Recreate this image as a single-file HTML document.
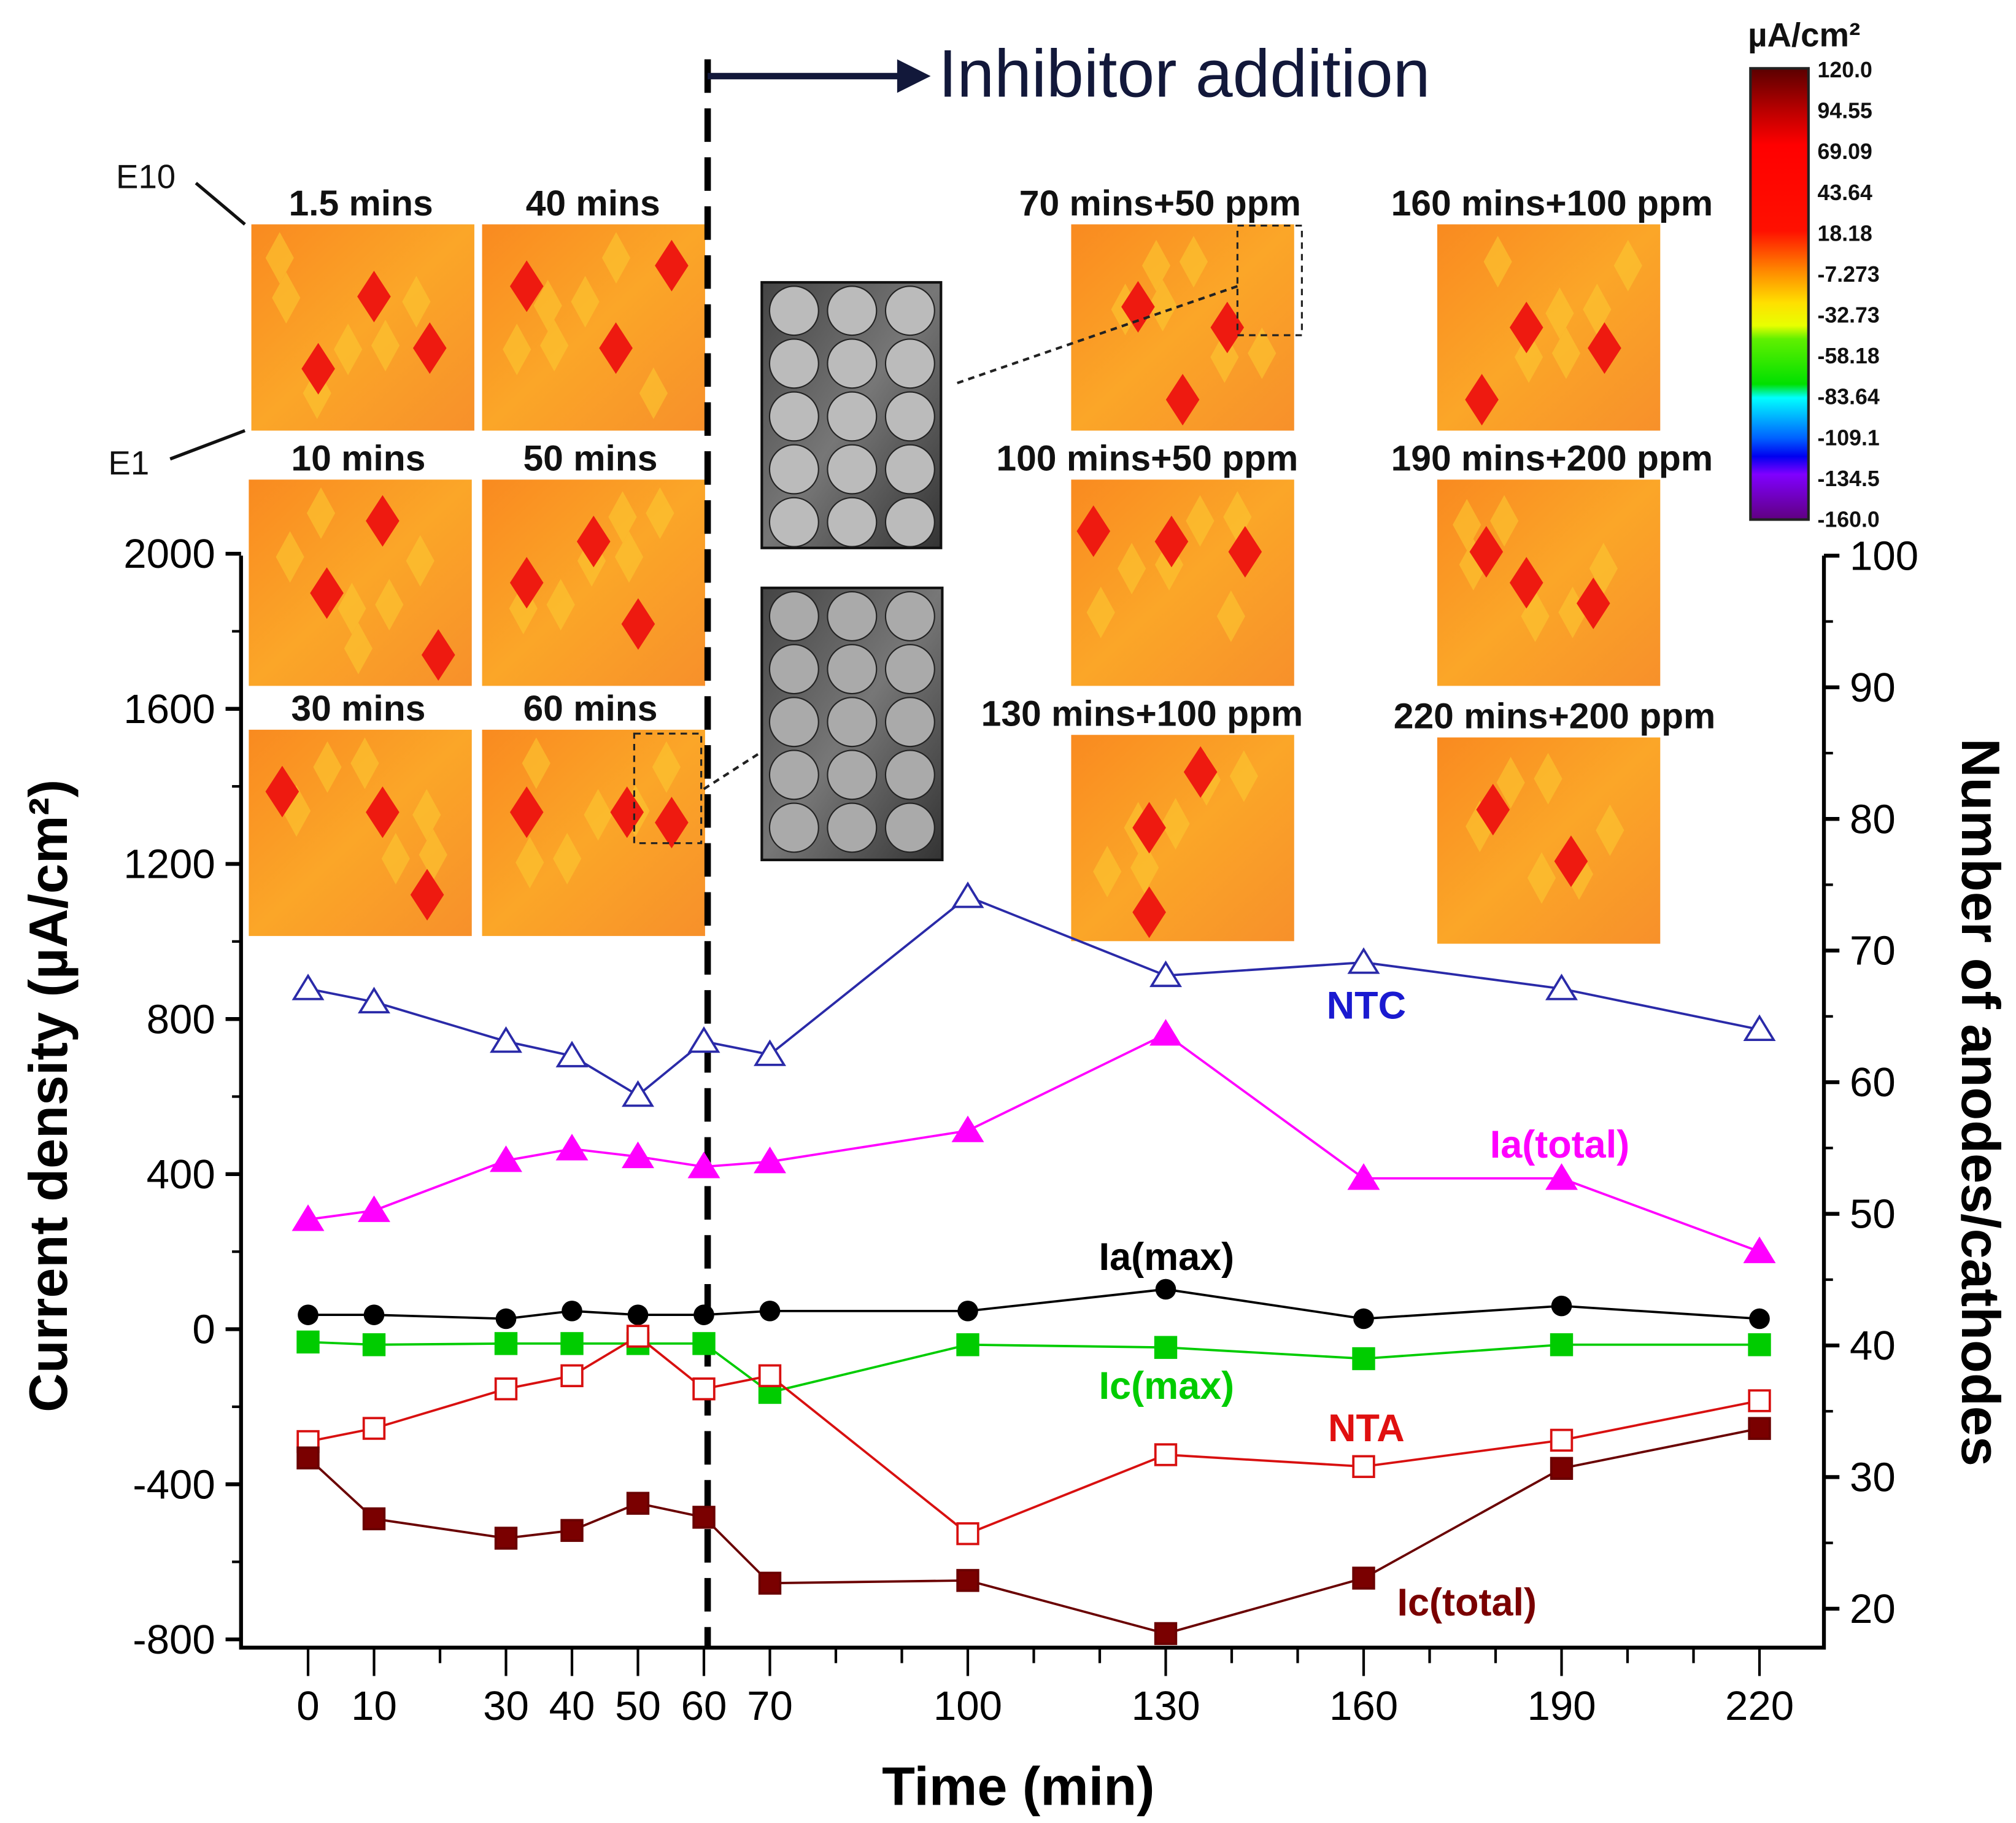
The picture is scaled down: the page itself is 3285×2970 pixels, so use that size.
<!DOCTYPE html>
<html><head><meta charset="utf-8"><style>
html,body{margin:0;padding:0;background:#fff;}
svg{display:block;font-family:"Liberation Sans",sans-serif;}
</style></head><body>
<svg id="chart" width="3285" height="2970" viewBox="0 0 1564 1414" xmlns="http://www.w3.org/2000/svg">
<defs>
<linearGradient id="cb" x1="0" y1="0" x2="0" y2="1">
<stop offset="0" stop-color="#5a0000"/><stop offset="0.1" stop-color="#c00000"/><stop offset="0.17" stop-color="#ff0000"/><stop offset="0.36" stop-color="#ff1000"/><stop offset="0.45" stop-color="#ff8a00"/><stop offset="0.52" stop-color="#ffe000"/><stop offset="0.57" stop-color="#e8ff00"/><stop offset="0.6" stop-color="#60f000"/><stop offset="0.7" stop-color="#00e000"/><stop offset="0.73" stop-color="#00ffff"/><stop offset="0.82" stop-color="#0060ff"/><stop offset="0.86" stop-color="#0000f0"/><stop offset="0.9" stop-color="#8000ff"/><stop offset="1" stop-color="#600080"/>
</linearGradient>
<linearGradient id="hm" x1="0" y1="0" x2="1" y2="1">
<stop offset="0" stop-color="#f98a20"/><stop offset="0.5" stop-color="#fba628"/><stop offset="1" stop-color="#f7902a"/>
</linearGradient>
<linearGradient id="ph" x1="0" y1="0" x2="1" y2="1">
<stop offset="0" stop-color="#444"/><stop offset="0.5" stop-color="#777"/><stop offset="1" stop-color="#333"/>
</linearGradient>
</defs>
<g id="maps"></g>
<g id="plot"></g>
</svg>
<script>
const times = [0,10,30,40,50,60,70,100,130,160,190,220];
const ntc = [67.1,66.1,63.1,62,59,63.1,62.1,74.1,68.1,69.1,67.1,64];
const nta = [32.7,33.7,36.7,37.7,40.7,36.7,37.7,25.7,31.7,30.8,32.8,35.8];
const iaTotal = [283,306,435,465,445,419,432,512,761,389,389,200];
const iaMax = [37,37,27,47,37,37,47,47,103,27,60,27];
const icMax = [-33,-40,-37,-37,-37,-37,-163,-40,-47,-76,-40,-40];
const icTotal = [-332,-489,-539,-519,-449,-485,-655,-648,-785,-642,-359,-256];
const leftTicks = [-800,-400,0,400,800,1200,1600,2000];
const rightTicks = [20,30,40,50,60,70,80,90,100];
const xTicks = [0,10,30,40,50,60,70,100,130,160,190,220];
const cbLabels = ["120.0","94.55","69.09","43.64","18.18","-7.273","-32.73","-58.18","-83.64","-109.1","-134.5","-160.0"];

const NS="http://www.w3.org/2000/svg";
const X0=187,X1=1415,YB=1278;
const xs=t=>239+t*(1126/220);
const yl=v=>1031-v*(120.3/400);
const yr=v=>431+(100-v)*10.21;
const plot=document.getElementById('plot');
const maps=document.getElementById('maps');
function mk(tag,attrs,parent,text){const e=document.createElementNS(NS,tag);for(const k in attrs)e.setAttribute(k,attrs[k]);if(text!==undefined)e.textContent=text;(parent||plot).appendChild(e);return e;}

const mapBoxes=[[195,174,"1.5 mins",280],[374,174,"40 mins",460],[193,372,"10 mins",278],[374,372,"50 mins",458],[193,566,"30 mins",278],[374,566,"60 mins",458],
[831,174,"70 mins+50 ppm",900],[1115,174,"160 mins+100 ppm",1204],[831,372,"100 mins+50 ppm",890],[1115,372,"190 mins+200 ppm",1204],[831,570,"130 mins+100 ppm",886],[1115,572,"220 mins+200 ppm",1206]];
const spots=[[[0.55,0.35],[0.3,0.7],[0.8,0.6]],[[0.2,0.3],[0.6,0.6],[0.85,0.2]],[[0.35,0.55],[0.85,0.85],[0.6,0.2]],[[0.2,0.5],[0.5,0.3],[0.7,0.7]],[[0.15,0.3],[0.6,0.4],[0.8,0.8]],[[0.2,0.4],[0.65,0.4],[0.85,0.45]],
[[0.3,0.4],[0.7,0.5],[0.5,0.85]],[[0.4,0.5],[0.75,0.6],[0.2,0.85]],[[0.1,0.25],[0.45,0.3],[0.78,0.35]],[[0.22,0.35],[0.4,0.5],[0.7,0.6]],[[0.35,0.45],[0.58,0.18],[0.35,0.9]],[[0.25,0.35],[0.6,0.6]]];
mapBoxes.forEach((b,i)=>{
  const r=mk('rect',{x:b[0],y:b[1],width:173,height:160,fill:'url(#hm)'},maps);
  
  
  for(let k=0;k<6;k++){const px=b[0]+22+((k*53+i*29)%130),py=b[1]+26+((k*71+i*37)%108);
    mk('polygon',{points:`${px},${py-20} ${px+11},${py} ${px},${py+20} ${px-11},${py}`,fill:'#fcc830',opacity:0.6},maps);}
  spots[i].forEach(s=>{const px=b[0]+Math.min(Math.max(s[0],0.1),0.9)*173,py=b[1]+Math.min(Math.max(s[1],0.14),0.86)*160;
    mk('polygon',{points:`${px},${py-20} ${px+13},${py} ${px},${py+20} ${px-13},${py}`,fill:'#ee1a10'},maps);});
  const t=mk('text',{x:b[3],y:b[1]-7,'font-size':28,'font-weight':'bold','text-anchor':'middle',fill:'#111'},maps,b[2]);
  
  
});
[[591,219,139,206],[591,456,140,211]].forEach((p,i)=>{
  const r=mk('rect',{x:p[0],y:p[1],width:p[2],height:p[3],fill:'url(#ph)',stroke:'#111','stroke-width':2},maps);
  
  
  for(let a=0;a<5;a++)for(let c=0;c<3;c++)mk('circle',{cx:p[0]+25+c*45,cy:p[1]+22+a*41,r:19,fill:i?'#aaa':'#bbb',stroke:'#222'},maps);
});
mk('rect',{x:960,y:175,width:50,height:85,fill:'none',stroke:'#222','stroke-dasharray':'5,4','stroke-width':1.5},maps);
mk('rect',{x:492,y:569,width:52,height:85,fill:'none',stroke:'#222','stroke-dasharray':'5,4','stroke-width':1.5},maps);
mk('line',{x1:960,y1:222,x2:740,y2:298,stroke:'#222','stroke-dasharray':'5,4','stroke-width':2},maps);
mk('line',{x1:546,y1:612,x2:588,y2:585,stroke:'#222','stroke-dasharray':'5,4','stroke-width':2},maps);
mk('text',{x:90,y:146,'font-size':26,fill:'#111'},maps,'E10');
mk('text',{x:84,y:368,'font-size':26,fill:'#111'},maps,'E1');
mk('line',{x1:152,y1:142,x2:190,y2:174,stroke:'#111','stroke-width':2.5},maps);
mk('line',{x1:132,y1:356,x2:190,y2:334,stroke:'#111','stroke-width':2.5},maps);
const cbr=mk('rect',{x:1358,y:53,width:45,height:350,fill:'url(#cb)',stroke:'#222','stroke-width':2},maps);


cbLabels.forEach((l,i)=>mk('text',{x:1410,y:60+i*31.7,'font-size':17,'font-weight':'bold',fill:'#111'},maps,l));
mk('text',{x:1356,y:36,'font-size':26,'font-weight':'bold',fill:'#111'},maps,'µA/cm²');

const fr=mk('path',{d:`M${X0},431 V${YB} H${X1} V431`,fill:'none',stroke:'#000','stroke-width':3});


leftTicks.forEach(v=>{mk('line',{x1:X0-12,x2:X0,y1:yl(v),y2:yl(v),stroke:'#000','stroke-width':3});
  const t=mk('text',{x:X0-20,y:yl(v)+11,'font-size':32,'text-anchor':'end',fill:'#000'},plot,v);
  
  });
for(let v=-600;v<2000;v+=400)mk('line',{x1:X0-7,x2:X0,y1:yl(v),y2:yl(v),stroke:'#000','stroke-width':2});
rightTicks.forEach(v=>{mk('line',{x1:X1,x2:X1+12,y1:yr(v),y2:yr(v),stroke:'#000','stroke-width':3});
  const t=mk('text',{x:X1+20,y:yr(v)+11,'font-size':32,fill:'#000'},plot,v);
  
  });
for(let v=25;v<100;v+=10)mk('line',{x1:X1,x2:X1+7,y1:yr(v),y2:yr(v),stroke:'#000','stroke-width':2});
for(let t=0;t<=220;t+=10)mk('line',{x1:xs(t),x2:xs(t),y1:YB,y2:YB+(xTicks.includes(t)?22:12),stroke:'#000','stroke-width':2});
xTicks.forEach(v=>{const t=mk('text',{x:xs(v),y:1334,'font-size':32,'text-anchor':'middle',fill:'#000'},plot,v);
  
  });
const xt=mk('text',{x:790,y:1400,'font-size':42,'font-weight':'bold','text-anchor':'middle'},plot,'Time (min)');


const ytl=mk('text',{x:0,y:0,'font-size':42,'font-weight':'bold','text-anchor':'middle',transform:'translate(52,850) rotate(-90)'},plot,'Current density (µA/cm²)');


const ytr=mk('text',{x:0,y:0,'font-size':42,'font-weight':'bold','text-anchor':'middle',transform:'translate(1522,855) rotate(90)'},plot,'Number of anodes/cathodes');



const dl=mk('line',{x1:549,x2:549,y1:46,y2:1278,stroke:'#000','stroke-width':5,'stroke-dasharray':'26,12'});


mk('line',{x1:549,x2:700,y1:59,y2:59,stroke:'#12183a','stroke-width':5});
mk('polygon',{points:'696,46 722,59 696,72',fill:'#12183a'});
const it=mk('text',{x:728,y:75,'font-size':52,fill:'#12183a'},plot,'Inhibitor addition');



function series(name,vals,yf,color,marker,fill){
  const pts=vals.map((v,i)=>[xs(times[i]),yf(v)]);
  const pl=mk('polyline',{points:pts.map(p=>p.join(',')).join(' '),fill:'none',stroke:color,'stroke-width':1.8});
  
  
  pts.forEach(p=>{let m;
    if(marker==='tri')m=mk('polygon',{points:`${p[0]},${p[1]-10} ${p[0]+11},${p[1]+8} ${p[0]-11},${p[1]+8}`,fill:fill,stroke:color,'stroke-width':1.8});
    else if(marker==='circ')m=mk('circle',{cx:p[0],cy:p[1],r:8,fill:fill});
    else m=mk('rect',{x:p[0]-8,y:p[1]-8,width:16,height:16,fill:fill,stroke:color,'stroke-width':1.8});
    
    });
}
series('ntc',ntc,yr,'#2a2aa8','tri','#fff');
series('ia-total',iaTotal,yl,'#ff00ff','tri','#ff00ff');
series('ia-max',iaMax,yl,'#000','circ','#000');
series('ic-max',icMax,yl,'#00cc00','sq','#00cc00');
series('nta',nta,yr,'#d81010','sq','#fff');
series('ic-total',icTotal,yl,'#6a0000','sq','#7a0000');
[['NTC',1060,790,'#1a1ad0'],['Ia(total)',1210,898,'#ff00ff'],['Ia(max)',905,985,'#000'],['Ic(max)',905,1085,'#00cc00'],['NTA',1060,1118,'#e01010'],['Ic(total)',1138,1253,'#7a0000']].forEach(l=>{
  const t=mk('text',{x:l[1],y:l[2],'font-size':30,'font-weight':'bold','text-anchor':'middle',fill:l[3]},plot,l[0]);
  
  });
</script>
</body></html>
